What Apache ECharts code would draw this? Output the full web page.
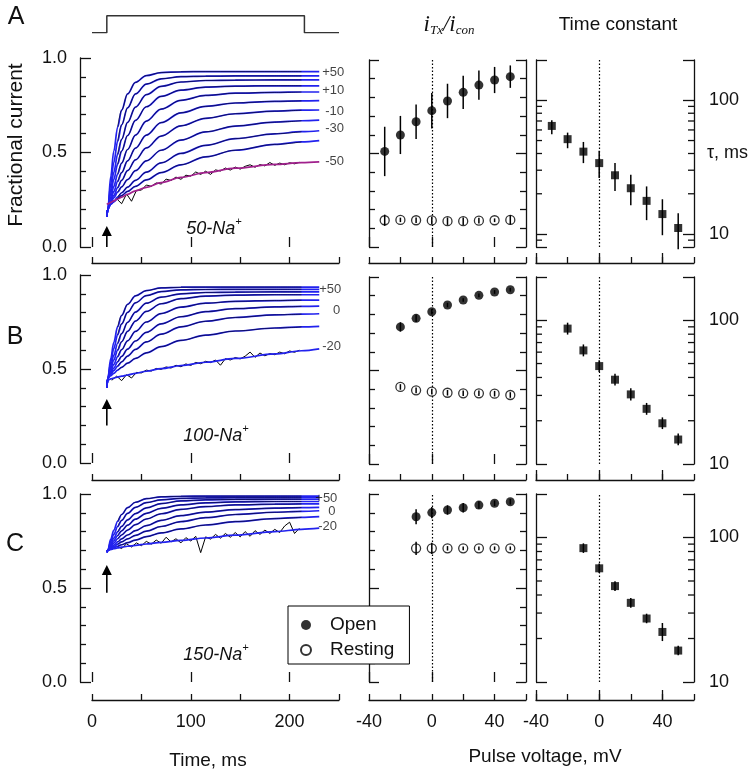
<!DOCTYPE html>
<html><head><meta charset="utf-8">
<script src="https://cdn.jsdelivr.net/npm/echarts@6/dist/echarts.min.js"></script>
<style>html,body{margin:0;padding:0;background:#fff}#chart{width:756px;height:775px}</style>
</head><body><div id="chart"></div>
<script>
// ---------------- data ----------------
const fitT = [15,16,19,22,26,30,36,44,55,70,90,115,145,185,212,230];
const fitsA = [ // +50 ... -50 mV
 [0.16,0.20,0.374,0.506,0.635,0.724,0.810,0.871,0.907,0.923,0.927,0.928,0.928,0.928,0.928,0.928],
 [0.16,0.20,0.336,0.446,0.560,0.646,0.736,0.810,0.862,0.890,0.901,0.904,0.905,0.905,0.905,0.905],
 [0.16,0.20,0.305,0.394,0.491,0.570,0.659,0.740,0.806,0.850,0.873,0.881,0.883,0.884,0.884,0.884],
 [0.16,0.20,0.283,0.356,0.438,0.508,0.590,0.670,0.742,0.797,0.830,0.846,0.851,0.853,0.853,0.853],
 [0.16,0.20,0.263,0.320,0.386,0.444,0.516,0.592,0.666,0.730,0.776,0.802,0.814,0.818,0.820,0.820],
 [0.16,0.20,0.248,0.293,0.347,0.394,0.456,0.523,0.592,0.658,0.710,0.744,0.762,0.771,0.773,0.774],
 [0.16,0.20,0.237,0.272,0.314,0.353,0.404,0.461,0.524,0.587,0.641,0.681,0.705,0.719,0.724,0.725],
 [0.16,0.20,0.230,0.260,0.290,0.318,0.357,0.404,0.456,0.512,0.566,0.609,0.640,0.661,0.668,0.671],
 [0.16,0.20,0.228,0.243,0.264,0.287,0.317,0.353,0.396,0.445,0.495,0.538,0.573,0.599,0.610,0.615],
 [0.16,0.20,0.226,0.238,0.256,0.272,0.294,0.321,0.355,0.394,0.435,0.477,0.512,0.543,0.556,0.563],
 [0.225,0.228,0.236,0.244,0.255,0.264,0.279,0.297,0.316,0.341,0.368,0.394,0.417,0.437,0.446,0.450]
];
const fitsB = [ // +60 ... -20 mV
 [0.40,0.45,0.557,0.641,0.725,0.785,0.844,0.889,0.917,0.931,0.935,0.936,0.936,0.936,0.936,0.936],
 [0.40,0.45,0.537,0.608,0.683,0.740,0.801,0.852,0.890,0.912,0.921,0.923,0.924,0.924,0.924,0.924],
 [0.40,0.45,0.517,0.573,0.637,0.688,0.748,0.803,0.850,0.882,0.900,0.907,0.909,0.910,0.910,0.910],
 [0.40,0.45,0.502,0.548,0.600,0.645,0.700,0.755,0.806,0.847,0.874,0.888,0.893,0.895,0.895,0.895],
 [0.40,0.45,0.489,0.524,0.566,0.603,0.650,0.700,0.750,0.795,0.829,0.850,0.860,0.864,0.866,0.866],
 [0.40,0.45,0.479,0.505,0.538,0.567,0.606,0.649,0.695,0.740,0.778,0.805,0.821,0.830,0.833,0.834],
 [0.40,0.45,0.471,0.491,0.515,0.538,0.569,0.604,0.644,0.685,0.724,0.754,0.774,0.788,0.792,0.794],
 [0.40,0.45,0.464,0.477,0.494,0.509,0.531,0.556,0.586,0.619,0.652,0.680,0.702,0.718,0.724,0.727],
 [0.40,0.44,0.447,0.452,0.457,0.462,0.468,0.477,0.488,0.502,0.518,0.536,0.556,0.580,0.597,0.607]
];
const fitsC = [ // +60 ... -20 mV
 [0.69,0.70,0.760,0.807,0.855,0.891,0.927,0.956,0.975,0.985,0.988,0.989,0.989,0.989,0.989,0.989],
 [0.69,0.70,0.747,0.785,0.827,0.860,0.897,0.929,0.954,0.969,0.977,0.979,0.980,0.980,0.980,0.980],
 [0.69,0.70,0.735,0.765,0.799,0.828,0.862,0.896,0.926,0.949,0.963,0.969,0.971,0.972,0.972,0.972],
 [0.69,0.70,0.727,0.751,0.779,0.804,0.834,0.866,0.897,0.924,0.942,0.953,0.958,0.960,0.960,0.960],
 [0.69,0.70,0.720,0.739,0.762,0.782,0.808,0.837,0.867,0.895,0.918,0.933,0.942,0.946,0.947,0.948],
 [0.69,0.70,0.715,0.728,0.745,0.761,0.782,0.805,0.832,0.860,0.885,0.904,0.917,0.925,0.928,0.929],
 [0.69,0.70,0.710,0.720,0.733,0.745,0.761,0.780,0.802,0.827,0.853,0.874,0.891,0.903,0.908,0.911],
 [0.69,0.70,0.707,0.714,0.722,0.730,0.741,0.755,0.773,0.793,0.814,0.835,0.853,0.869,0.876,0.880],
 [0.69,0.70,0.705,0.709,0.713,0.717,0.722,0.727,0.734,0.743,0.753,0.766,0.781,0.800,0.812,0.818]
];
const noiseT = [20,25,30,35,40,45,50,55,60,65,70,75,80,85,90,95,100,105,110,115,120,125,130,135,140,145,150,155,160,165,170,175,180,185,190,195,200,205,210];
const noiseA = [0.228,0.255,0.229,0.281,0.242,0.300,0.301,0.328,0.321,0.339,0.333,0.359,0.352,0.370,0.358,0.380,0.375,0.397,0.384,0.401,0.384,0.408,0.402,0.418,0.407,0.423,0.412,0.427,0.435,0.422,0.436,0.429,0.447,0.432,0.444,0.435,0.446,0.440,0.448];
const noiseB = [0.440,0.462,0.438,0.470,0.452,0.482,0.479,0.494,0.489,0.503,0.498,0.511,0.505,0.520,0.512,0.527,0.519,0.535,0.528,0.541,0.534,0.548,0.520,0.555,0.548,0.561,0.554,0.568,0.590,0.562,0.585,0.570,0.582,0.576,0.590,0.581,0.596,0.589,0.600];
const noiseC = [0.705,0.722,0.710,0.735,0.718,0.740,0.725,0.748,0.733,0.755,0.738,0.770,0.745,0.762,0.740,0.768,0.750,0.775,0.688,0.772,0.760,0.785,0.765,0.790,0.770,0.795,0.772,0.800,0.775,0.805,0.785,0.808,0.790,0.812,0.795,0.830,0.850,0.790,0.818];

const curveLabelsA = ['+50','+10','-10','-30','-50'];
const curveLabelTA = [233,233,236,236,236];
const curveLabelVA = [0.922,0.827,0.716,0.628,0.455];
const curveLabelsB = ['+50','0','-20'];
const curveLabelTB = [230,244,233];
const curveLabelVB = [0.924,0.809,0.622];
const curveLabelsC = ['+50','0','-20'];
const curveLabelTC = [226,239,229];
const curveLabelVC = [0.977,0.906,0.826];

const arrowT = 15;
const arrowTip = [0.111,0.34,0.622];
const arrowBase = [0,0.2,0.475];

const stimT = [0,15,15,215,215,250];
const stimV = [0,0,1,1,0,0];

const pulseA = [-30,-20,-10,0,10,20,30,40,50];
const openA = [0.511,0.599,0.670,0.729,0.781,0.827,0.866,0.893,0.911];
const openErrA = [0.132,0.102,0.092,0.095,0.092,0.089,0.078,0.070,0.060];
const restA = [0.143,0.145,0.143,0.142,0.138,0.138,0.141,0.143,0.145];
const restErrA = [0.030,0.012,0.015,0.020,0.020,0.020,0.015,0.010,0.025];
const tauA = [64.3,51.2,41.3,33.9,27.5,22.0,17.7,14.1,11.1];
const tauLoA = [55.7,43.8,33.9,26.2,21.0,16.4,12.7,9.8,7.7];
const tauHiA = [70.9,57.3,48.8,41.9,33.9,27.7,22.7,18.2,14.3];

const pulseB = [-20,-10,0,10,20,30,40,50];
const openB = [0.733,0.779,0.814,0.850,0.877,0.902,0.920,0.932];
const openErrB = [0.025,0.020,0.015,0.012,0.010,0.010,0.010,0.010];
const restB = [0.412,0.394,0.387,0.381,0.378,0.378,0.376,0.369];
const restErrB = [0.015,0.015,0.015,0.015,0.015,0.015,0.015,0.015];
const tauB = [87.5,61.7,48.0,38.6,30.5,24.2,19.2,14.8];
const tauLoB = [79.5,56.1,43.6,35.1,27.7,22.0,17.5,13.5];
const tauHiB = [96.2,67.9,52.8,42.5,33.6,26.6,21.1,16.3];

const pulseC = [-10,0,10,20,30,40,50];
const openC = [0.879,0.901,0.915,0.927,0.941,0.951,0.959];
const openErrC = [0.040,0.030,0.025,0.025,0.020,0.015,0.015];
const restC = [0.711,0.711,0.711,0.711,0.711,0.711,0.711];
const restErrC = [0.035,0.030,0.012,0.010,0.010,0.010,0.010];
const tauC = [84.4,61.2,46.1,35.3,27.5,22.2,16.5];
const tauLoC = [78.2,56.7,42.7,32.7,25.5,19.2,15.3];
const tauHiC = [91.1,66.1,49.8,38.1,29.7,25.6,17.8];

const minorLogA = [9,20,30,40,50,60,70,80,90];
const minorLogBC = [20,30,40,50,60,70,80,90];

// ---------------- layout / build ----------------
const FONT = '"Liberation Sans", Arial, Helvetica, sans-serif';
const INK = '#111';
const BLUE = '#2222ee';
const MAGENTA = '#a0208c';
const ls = (w) => ({color: INK, width: w || 1.3});

const rows = [
 {lTop:58, lH:189, mTop:60, mH:187, axisY:263, fits:fitsA, noise:noiseA, noiseIdx:10, magentaIdx:10,
  labTxt:curveLabelsA, labT:curveLabelTA, labV:curveLabelVA, tip:arrowTip[0], base:arrowBase[0],
  pulse:pulseA, open:openA, openErr:openErrA, rest:restA, restErr:restErrA, tau:tauA, tauLo:tauLoA, tauHi:tauHiA,
  tauMin:8, minor:minorLogA, showX:false},
 {lTop:275, lH:188, mTop:277, mH:187, axisY:480, fits:fitsB, noise:noiseB, noiseIdx:8, magentaIdx:-1,
  labTxt:curveLabelsB, labT:curveLabelTB, labV:curveLabelVB, tip:arrowTip[1], base:arrowBase[1],
  pulse:pulseB, open:openB, openErr:openErrB, rest:restB, restErr:restErrB, tau:tauB, tauLo:tauLoB, tauHi:tauHiB,
  tauMin:10, minor:minorLogBC, showX:false},
 {lTop:494, lH:188, mTop:494, mH:188, axisY:700, fits:fitsC, noise:noiseC, noiseIdx:8, magentaIdx:-1,
  labTxt:curveLabelsC, labT:curveLabelTC, labV:curveLabelVC, tip:arrowTip[2], base:arrowBase[2],
  pulse:pulseC, open:openC, openErr:openErrC, rest:restC, restErr:restErrC, tau:tauC, tauLo:tauLoC, tauHi:tauHiC,
  tauMin:10, minor:minorLogBC, showX:true}
];

const grid = [], xAxis = [], yAxis = [], series = [];

function errBarSeries(xi, yi, data, z){
  return {type:'custom', xAxisIndex:xi, yAxisIndex:yi, data:data, silent:true, z:z, animation:false,
    renderItem:(p, api) => {
      const a = api.coord([api.value(0), api.value(1)]);
      const b = api.coord([api.value(0), api.value(2)]);
      return {type:'line', shape:{x1:a[0], y1:a[1], x2:b[0], y2:b[1]}, style:{stroke:'#000', lineWidth:1.5}};
    }};
}
const dotted = {silent:true, symbol:['none','none'], label:{show:false}, animation:false,
  lineStyle:{type:[1.5,2], color:'#000', width:1.2}, emphasis:{disabled:true}, data:[{xAxis:0}]};

function pulseXAxes(gi, off, showLab){
  const xi = xAxis.length;
  xAxis.push({gridIndex:gi, type:'value', min:-40, max:60, interval:20, position:'bottom', offset:off,
    axisLine:{show:true, onZero:false, lineStyle:ls()}, axisTick:{show:true, inside:true, length:6, lineStyle:ls()},
    axisLabel:{show:showLab, margin:13, fontSize:18, color:INK, fontFamily:FONT,
      formatter:v => (v===-40||v===0||v===40) ? String(v) : ''},
    splitLine:{show:false}});
  xAxis.push({gridIndex:gi, type:'value', min:-40, max:60, position:'bottom', offset:off,
    axisLine:{show:false}, axisTick:{show:true, inside:true, length:10, customValues:[-40,0,40], lineStyle:ls()},
    axisLabel:{show:false}, splitLine:{show:false}});
  return xi;
}

rows.forEach((r, ri) => {
  // ---- left: traces ----
  const gl = grid.length;
  grid.push({left:92, top:r.lTop, width:247, height:r.lH});
  const offL = r.axisY - (r.lTop + r.lH);
  const xl = xAxis.length;
  xAxis.push({gridIndex:gl, type:'value', min:0, max:250, interval:50, position:'bottom', offset:offL,
    axisLine:{show:true, onZero:false, lineStyle:ls()}, axisTick:{show:true, inside:true, length:6, lineStyle:ls()},
    axisLabel:{show:r.showX, margin:13, fontSize:18, color:INK, fontFamily:FONT,
      formatter:v => (v % 100 === 0) ? String(v) : ''},
    splitLine:{show:false}});
  xAxis.push({gridIndex:gl, type:'value', min:0, max:250, position:'bottom', offset:offL,
    axisLine:{show:false}, axisTick:{show:true, inside:true, length:10, customValues:[0,100,200], lineStyle:ls()},
    axisLabel:{show:false}, splitLine:{show:false}});
  const yl = yAxis.length;
  yAxis.push({gridIndex:gl, type:'value', min:0, max:1, interval:0.5, position:'left', offset:12,
    axisLine:{show:true, onZero:false, lineStyle:ls()}, axisTick:{inside:true, length:11, lineStyle:ls()},
    minorTick:{show:true, splitNumber:5, length:6, lineStyle:ls()},
    axisLabel:{margin:13, fontSize:18, color:INK, fontFamily:FONT, formatter:v => v.toFixed(1)},
    splitLine:{show:false}, minorSplitLine:{show:false}});

  r.fits.forEach((arr, k) => {
    if (k === r.noiseIdx) {
      series.push({type:'line', xAxisIndex:xl, yAxisIndex:yl, data:noiseT.map((t,i)=>[t, r.noise[i]]),
        showSymbol:false, lineStyle:{color:'#000', width:1}, z:2, silent:true, animation:false});
    }
    series.push({type:'line', xAxisIndex:xl, yAxisIndex:yl, data:fitT.map((t,i)=>[t, arr[i]]),
      showSymbol:false, smooth:0.35, smoothMonotone:'x',
      lineStyle:{color: k === r.magentaIdx ? MAGENTA : BLUE, width:1.7}, z:3, silent:true, animation:false});
    if (k !== r.noiseIdx) {
      series.push({type:'line', xAxisIndex:xl, yAxisIndex:yl, data:fitT.slice(4,15).map((t,i)=>[t, arr[i+4]]),
        showSymbol:false, smooth:0.35, smoothMonotone:'x',
        lineStyle:{color:'#000', width:0.6}, z:4, silent:true, animation:false});
    }
  });
  series.push({type:'scatter', xAxisIndex:xl, yAxisIndex:yl, data:r.labT.map((t,i)=>[t, r.labV[i]]),
    symbolSize:0, itemStyle:{color:'rgba(0,0,0,0)'}, silent:true, z:5, animation:false,
    label:{show:true, position:'right', distance:0, formatter:p => r.labTxt[p.dataIndex],
      fontSize:13, color:INK, fontFamily:FONT}});
  series.push({type:'custom', xAxisIndex:xl, yAxisIndex:yl, data:[[arrowT, r.tip, r.base]], silent:true, z:5, animation:false,
    renderItem:(p, api) => {
      const tip = api.coord([api.value(0), api.value(1)]);
      const base = api.coord([api.value(0), api.value(2)]);
      return {type:'group', children:[
        {type:'line', shape:{x1:tip[0], y1:tip[1]+8, x2:base[0], y2:base[1]}, style:{stroke:'#000', lineWidth:1.6}},
        {type:'polygon', shape:{points:[[tip[0],tip[1]],[tip[0]-5,tip[1]+10],[tip[0]+5,tip[1]+10]]}, style:{fill:'#000'}}
      ]};
    }});

  // ---- middle: i_Tx / i_con ----
  const gm = grid.length;
  grid.push({left:369, top:r.mTop, width:157, height:r.mH});
  const offM = r.axisY - (r.mTop + r.mH);
  const xm = pulseXAxes(gm, offM, r.showX);
  const ym = yAxis.length;
  ['left','right'].forEach(pos => {
    yAxis.push({gridIndex:gm, type:'value', min:0, max:1, interval:0.5, position:pos,
      axisLine:{show:true, onZero:false, lineStyle:ls()}, axisTick:{inside:true, length:10, lineStyle:ls()},
      minorTick:{show:true, splitNumber:5, length:6, lineStyle:ls()},
      axisLabel:{show:false}, splitLine:{show:false}, minorSplitLine:{show:false}});
  });
  series.push(errBarSeries(xm, ym, r.pulse.map((x,i)=>[x, r.open[i]-r.openErr[i], r.open[i]+r.openErr[i]]), 4));
  series.push({type:'scatter', name:'Open', xAxisIndex:xm, yAxisIndex:ym,
    data:r.pulse.map((x,i)=>[x, r.open[i]]), symbol:'circle', symbolSize:9,
    itemStyle:{color:'#000'}, z:5, silent:true, animation:false, markLine:dotted});
  series.push({type:'scatter', name:'Resting', xAxisIndex:xm, yAxisIndex:ym,
    data:r.pulse.map((x,i)=>[x, r.rest[i]]), symbol:'circle', symbolSize:9,
    itemStyle:{color:'#fff', borderColor:'#000', borderWidth:1.3}, z:5, silent:true, animation:false});
  series.push(errBarSeries(xm, ym, r.pulse.map((x,i)=>[x, r.rest[i]-r.restErr[i], r.rest[i]+r.restErr[i]]), 6));

  // ---- right: time constant (log) ----
  const gr = grid.length;
  grid.push({left:536, top:r.mTop, width:158, height:r.mH});
  const xr = pulseXAxes(gr, offM, r.showX);
  const yr = yAxis.length;
  ['left','right'].forEach(pos => {
    yAxis.push({gridIndex:gr, type:'log', logBase:10, min:r.tauMin, max:200, position:pos,
      axisLine:{show:true, onZero:false, lineStyle:ls()}, axisTick:{inside:true, length:11, lineStyle:ls()},
      minorTick:{show:false},
      axisLabel:{show:pos === 'right', margin:15, fontSize:18, color:INK, fontFamily:FONT,
        formatter:v => { const q = Math.round(v); return ((q===10||q===100) && Math.abs(v-q) < 1e-3) ? String(q) : ''; }},
      splitLine:{show:false}});
  });
  series.push({type:'custom', xAxisIndex:xr, yAxisIndex:yr, data:r.minor.map(v => [-40, v]), silent:true, z:3, animation:false,
    renderItem:(p, api) => {
      const cs = p.coordSys;
      const y = api.coord([api.value(0), api.value(1)])[1];
      return {type:'group', children:[
        {type:'line', shape:{x1:cs.x, y1:y, x2:cs.x+6, y2:y}, style:{stroke:INK, lineWidth:1.3}},
        {type:'line', shape:{x1:cs.x+cs.width-6, y1:y, x2:cs.x+cs.width, y2:y}, style:{stroke:INK, lineWidth:1.3}}
      ]};
    }});
  series.push(errBarSeries(xr, yr, r.pulse.map((x,i)=>[x, r.tauLo[i], r.tauHi[i]]), 4));
  series.push({type:'scatter', name:'tau', xAxisIndex:xr, yAxisIndex:yr,
    data:r.pulse.map((x,i)=>[x, r.tau[i]]), symbol:'rect', symbolSize:8,
    itemStyle:{color:'#000'}, z:5, silent:true, animation:false, markLine:dotted});
});

// stimulus protocol
const gs = grid.length;
grid.push({left:92, top:15.7, width:247, height:17});
const xs = xAxis.length;
xAxis.push({gridIndex:gs, type:'value', min:0, max:250, show:false});
const ys = yAxis.length;
yAxis.push({gridIndex:gs, type:'value', min:0, max:1, show:false});
series.push({type:'line', xAxisIndex:xs, yAxisIndex:ys, data:stimT.map((t,i)=>[t, stimV[i]]),
  showSymbol:false, lineStyle:{color:'#333', width:1.5}, silent:true, animation:false});

const T = (x, y, text, size, extra) => Object.assign({type:'text', x:x, y:y, silent:true,
  style:Object.assign({text:text, font:`${size}px ${FONT}`, fill:INK, align:'center', verticalAlign:'middle'}, (extra||{}).style || {})},
  (extra||{}).el || {});

const naRich = {a:{fontSize:18, fontStyle:'italic', fontFamily:FONT, lineHeight:22, verticalAlign:'bottom'},
                p:{fontSize:11, fontStyle:'italic', fontFamily:FONT, lineHeight:11, verticalAlign:'top'}};
const graphic = [
  T(16, 17, 'A', 25), T(15, 337, 'B', 25), T(15, 544, 'C', 25),
  T(16, 145, 'Fractional current', 21, {el:{rotation:Math.PI/2}}),
  T(618, 25, 'Time constant', 19),
  T(208, 761, 'Time, ms', 19),
  T(545, 757, 'Pulse voltage, mV', 19),
  T(707, 153, 'τ, ms', 18, {style:{align:'left'}}),
  {type:'text', x:449, y:25, silent:true, style:{text:'{i|i}{s|Tx}{i|/i}{s|con}', align:'center', verticalAlign:'middle', fill:INK,
    rich:{i:{fontSize:23, fontStyle:'italic', fontFamily:'"Liberation Serif", "Times New Roman", serif', lineHeight:24, verticalAlign:'top'},
          s:{fontSize:13, fontStyle:'italic', fontFamily:'"Liberation Serif", "Times New Roman", serif', lineHeight:12, verticalAlign:'bottom'}}}},
  {type:'text', x:214, y:227, silent:true, style:{text:'{a|50-Na}{p|+}', align:'center', verticalAlign:'middle', fill:INK, rich:naRich}},
  {type:'text', x:216, y:434, silent:true, style:{text:'{a|100-Na}{p|+}', align:'center', verticalAlign:'middle', fill:INK, rich:naRich}},
  {type:'text', x:216, y:653, silent:true, style:{text:'{a|150-Na}{p|+}', align:'center', verticalAlign:'middle', fill:INK, rich:naRich}}
];

const chart = echarts.init(document.getElementById('chart'), null, {renderer:'canvas'});
chart.setOption({
  animation:false,
  backgroundColor:'#fff',
  grid:grid, xAxis:xAxis, yAxis:yAxis, series:series, graphic:graphic,
  legend:{orient:'vertical', left:288, top:606, selectedMode:false, z:10,
    data:[{name:'Open', icon:'circle'}, {name:'Resting', icon:'circle'}],
    itemWidth:10, itemHeight:10, itemGap:5, padding:[9,15,4,12],
    backgroundColor:'#fff', borderColor:'#000', borderWidth:1, borderRadius:0,
    textStyle:{fontSize:19, color:INK, fontFamily:FONT, lineHeight:20, padding:[0,0,0,14]}}
});
</script>
</body></html>
